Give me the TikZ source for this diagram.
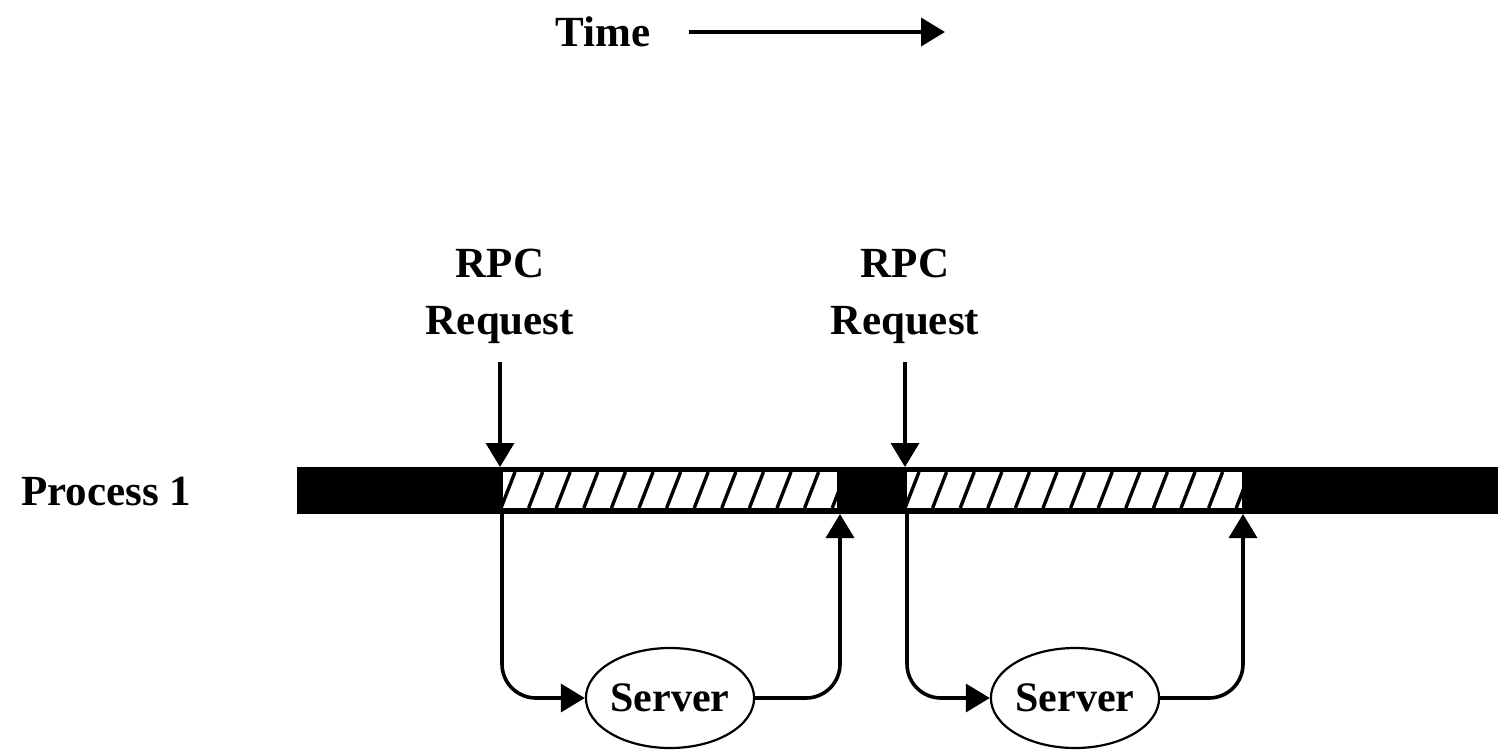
\documentclass[tikz,border=0pt]{standalone}
\usepackage{fontspec}
\setmainfont{Liberation Serif}
\usetikzlibrary{arrows.meta,shapes.geometric}
\begin{document}
\begin{tikzpicture}[x=0.5pt,y=-0.5pt,
  lbl/.style={font=\fontsize{21.5}{28.5}\selectfont\bfseries, inner sep=0pt, align=center},
  conn/.style={line width=1.8pt, draw=black, rounded corners=17pt},
  tip/.style={-{Triangle[length=12pt,width=14pt]}},
  srv/.style={ellipse, draw, line width=1.1pt, minimum width=78pt, minimum height=50pt, inner sep=0pt,
    font=\fontsize{21}{26}\selectfont\bfseries}
]
\useasboundingbox (0,0) rectangle (1498,751);

% time axis
\node[lbl] (time) at (603,32) {Time};
\coordinate (tend) at (945,32);
\draw[line width=2pt, tip] ([xshift=19pt]time.east) -- (tend);

% process label
\node[lbl] (proc) at (106,492) {Process 1};

% process bar
\fill[black] (297,467) rectangle (1498,514);
\foreach \a/\b in {503/837, 907/1242}{
  \fill[white] (\a,472) rectangle (\b,508);
  \begin{scope}
    \clip (\a,472) rectangle (\b,508);
    \foreach \k in {0,...,13}{
      \draw[line width=1.7pt] ({\a+\k*27.6-2},508) -- ({\a+\k*27.6+12},472);
    }
  \end{scope}
}

% RPC requests
\node[lbl] (rpc1) at (500,296) {RPC\\Request};
\node[lbl] (rpc2) at (905,296) {RPC\\Request};
\coordinate (in1) at (500,467);
\coordinate (in2) at (905,467);
\draw[conn, tip] ([yshift=-9pt]rpc1.south) -- (in1);
\draw[conn, tip] ([yshift=-9pt]rpc2.south) -- (in2);

% servers
\node[srv] (srv1) at (670,698) {Server};
\node[srv] (srv2) at (1075,698) {Server};

\coordinate (d1) at (502,514);
\coordinate (d2) at (907,514);
\coordinate (u1) at (840,514);
\coordinate (u2) at (1243,514);

\draw[conn, tip] (d1) |- (srv1.west);
\draw[conn, tip] (srv1.east) -| (u1);
\draw[conn, tip] (d2) |- (srv2.west);
\draw[conn, tip] (srv2.east) -| (u2);
\end{tikzpicture}
\end{document}
